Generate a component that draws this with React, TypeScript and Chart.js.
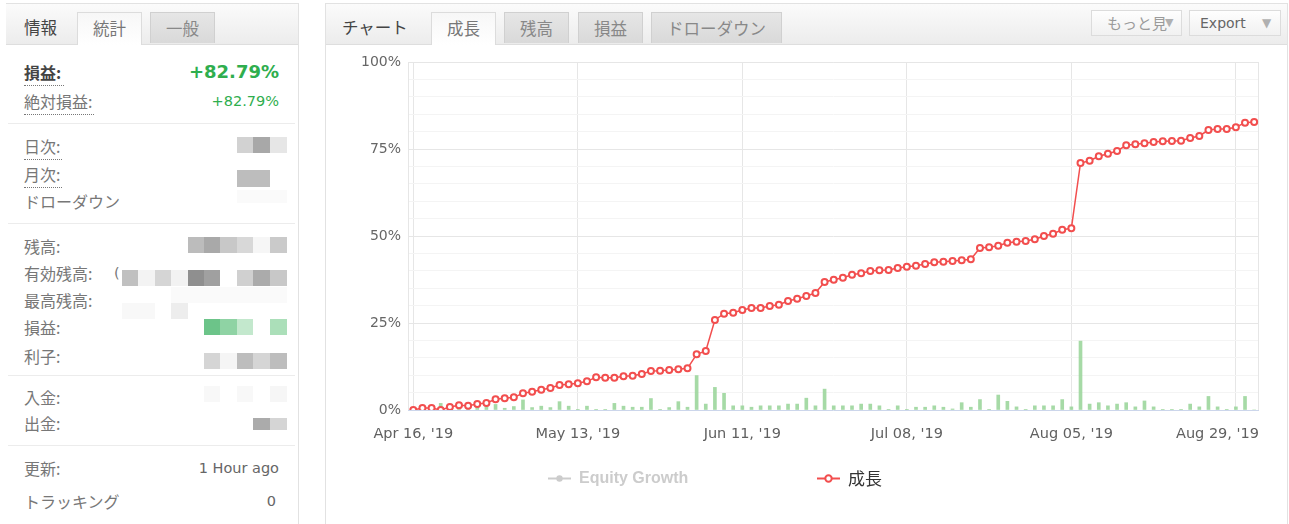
import React, { useEffect, useRef } from "react";
import { Chart, registerables } from "chart.js";

Chart.register(...registerables);

// ---------------- data ----------------
const growth = [
  0, 0.57, 0.57, 0, 0.86, 1.35, 1.24, 1.72, 2.0, 3.07,
  3.36, 3.64, 4.79, 5.27, 5.84, 6.32, 7.18, 7.38, 7.67, 8.24,
  9.39, 9.3, 9.3, 9.7, 9.87, 10.34, 11.2, 11.3, 11.5, 11.7,
  11.98, 16.0, 16.95, 25.86, 27.67, 27.96, 28.74, 29.31, 29.31, 29.89,
  30.26, 31.32, 31.98, 32.76, 33.62, 36.78, 37.44, 38.02, 38.88, 39.28,
  39.94, 40.14, 40.23, 40.8, 41.19, 41.47, 41.95, 42.44, 42.62, 42.82,
  43.02, 43.3, 46.55, 46.75, 47.21, 48.07, 48.36, 48.56, 49.05, 50.0,
  50.66, 51.81, 52.21, 70.98, 71.64, 72.9, 73.65, 74.43, 76.06, 76.35,
  76.64, 77.01, 77.21, 77.3, 77.39, 78.16, 78.74, 80.46, 80.75, 80.75,
  81.24, 82.56, 82.79,
];

const dailyBars = [
  0, 0.3, 0.3, 1.9, 0.5, 1.0, 1.3, 1.3, 1.0, 1.6,
  0.5, 1.0, 2.9, 0.7, 1.1, 0.7, 2.4, 1.1, 0.2, 1.1,
  0.2, 0.1, 1.9, 1.1, 0.8, 0.8, 3.3, 0.1, 0.7, 2.4,
  0.8, 9.9, 1.7, 6.5, 4.8, 1.2, 1.2, 0.8, 1.2, 1.2,
  1.2, 1.7, 1.7, 3.4, 1.2, 6.0, 1.2, 1.2, 1.2, 1.7,
  1.7, 1.2, 0.2, 1.2, 0.2, 0.8, 0.8, 1.2, 0.8, 0.3,
  2.1, 0.8, 3.0, 0.2, 4.3, 2.5, 0.9, 0.2, 1.2, 1.2,
  1.2, 3.0, 0.9, 19.8, 1.7, 2.1, 1.2, 1.7, 2.1, 0.9,
  2.6, 0.9, 0.1, 0.1, 0.1, 1.7, 0.9, 3.9, 0.9, 0.2,
  0.9, 3.9, 0,
];

const xTickLabels = ["Apr 16, '19", "May 13, '19", "Jun 11, '19", "Jul 08, '19", "Aug 05, '19", "Aug 29, '19"];
const xTickIndex = [0, 18, 36, 54, 72, 90];
const yMajorStep = 25;
const yMinorStep = 5;

const seriesNames = ["Equity Growth", "成長"];

// ---------------- styles ----------------
const RED = "#f24e4e";
const GREEN = "rgba(150, 212, 150, 0.85)";
const CJK = '"Noto Sans CJK JP", sans-serif';
const LATIN = '"DejaVu Sans", "Noto Sans CJK JP", sans-serif';

const plotBorder = {
  id: "plotBorder",
  beforeDatasetsDraw(chart: any) {
    const { ctx, chartArea: a } = chart;
    ctx.save();
    ctx.strokeStyle = "#e6e6e6";
    ctx.lineWidth = 1;
    ctx.beginPath();
    ctx.moveTo(a.left + 0.5, a.bottom);
    ctx.lineTo(a.left + 0.5, a.top + 0.5);
    ctx.lineTo(a.right - 0.5, a.top + 0.5);
    ctx.lineTo(a.right - 0.5, a.bottom);
    ctx.stroke();
    ctx.strokeStyle = "#ccd6eb";
    ctx.beginPath();
    ctx.moveTo(a.left, a.bottom + 0.5);
    ctx.lineTo(a.right, a.bottom + 0.5);
    ctx.stroke();
    ctx.restore();
  },
};

const xLabels = {
  id: "xLabels",
  afterDraw(chart: any) {
    const { ctx, chartArea: a } = chart;
    const xs = chart.scales.x;
    ctx.save();
    ctx.font = '14.5px "DejaVu Sans", sans-serif';
    ctx.fillStyle = "#606060";
    ctx.textBaseline = "middle";
    ctx.textAlign = "center";
    xTickIndex.forEach((idx, i) => {
      const txt = xTickLabels[i];
      const w = ctx.measureText(txt).width;
      let px = xs.getPixelForValue(idx);
      if (px + w / 2 > a.right) px = a.right - w / 2;
      ctx.fillText(txt, px, a.bottom + 24);
    });
    ctx.restore();
  },
};

const hcLegend = {
  id: "hcLegend",
  afterDraw(chart: any) {
    const { ctx } = chart;
    const y = 433;
    const startX = 222;
    const itemW = 269;
    const entries = chart.data.datasets.filter((d: any) => d.legendEntry);
    ctx.save();
    entries.forEach((d: any, i: number) => {
      const x = startX + i * itemW;
      const hidden = !!d.hidden;
      const col = hidden ? "#cccccc" : d.borderColor;
      ctx.strokeStyle = col;
      ctx.lineWidth = 2;
      ctx.beginPath();
      ctx.moveTo(x, y + 0.5);
      ctx.lineTo(x + 23, y + 0.5);
      ctx.stroke();
      ctx.beginPath();
      ctx.arc(x + 11.5, y + 0.5, 3.2, 0, Math.PI * 2);
      if (hidden) {
        ctx.fillStyle = col;
        ctx.fill();
      } else {
        ctx.fillStyle = "#ffffff";
        ctx.fill();
        ctx.stroke();
      }
      ctx.font = hidden
        ? 'bold 16px "Liberation Sans", sans-serif'
        : '17px "Noto Sans CJK JP", sans-serif';
      ctx.fillStyle = hidden ? "#cccccc" : "#333333";
      ctx.textBaseline = "middle";
      ctx.textAlign = "left";
      ctx.fillText(d.label, x + 31, y + 1);
    });
    ctx.restore();
  },
};

function GrowthChart() {
  const ref = useRef<HTMLCanvasElement | null>(null);
  useEffect(() => {
    if (!ref.current) return;
    const chart = new Chart(ref.current, {
      type: "bar",
      data: {
        datasets: [
          {
            type: "line",
            label: seriesNames[0],
            data: [],
            hidden: true,
            borderColor: "#cccccc",
            legendEntry: true,
          } as any,
          {
            type: "line",
            label: seriesNames[1],
            data: growth.map((v, i) => ({ x: i, y: v })),
            borderColor: RED,
            borderWidth: 1.5,
            pointRadius: 3,
            pointBorderWidth: 2,
            pointBackgroundColor: "#ffffff",
            pointBorderColor: RED,
            tension: 0,
            order: 1,
            legendEntry: true,
          } as any,
          {
            type: "bar",
            label: "daily",
            data: dailyBars.map((v, i) => ({ x: i, y: v })),
            backgroundColor: GREEN,
            barThickness: 3,
            order: 2,
          } as any,
        ],
      },
      options: {
        animation: false,
        responsive: false,
        layout: { padding: { left: 0, right: 29, top: 17, bottom: 74 } },
        plugins: { legend: { display: false }, tooltip: { enabled: false } },
        scales: {
          x: {
            type: "linear",
            offset: false,
            min: -0.58,
            max: 92.53,
            afterBuildTicks: (s: any) => {
              s.ticks = xTickIndex.map((v) => ({ value: v }));
            },
            afterFit: (s: any) => {
              s.height = 40;
            },
            ticks: { display: false },
            grid: { color: "#e6e6e6", drawTicks: false, offset: false },
            border: { display: false },
          },
          y: {
            min: 0,
            max: 100,
            afterFit: (s: any) => {
              s.width = 82;
            },
            ticks: {
              stepSize: yMinorStep,
              autoSkip: false,
              padding: 7,
              color: "#666666",
              font: { family: '"DejaVu Sans", sans-serif', size: 14 },
              callback: (v: any) => (Number(v) % yMajorStep === 0 ? v + "%" : ""),
            },
            grid: {
              drawTicks: false,
              color: (c: any) =>
                c.tick && c.tick.value === 0
                  ? "rgba(0,0,0,0)"
                  : c.tick && c.tick.value % yMajorStep === 0
                  ? "#e6e6e6"
                  : "#f4f4f4",
            },
            border: { display: false },
          },
        },
      } as any,
      plugins: [plotBorder, xLabels, hcLegend],
    });
    return () => chart.destroy();
  }, []);
  return (
    <canvas
      ref={ref}
      width={962}
      height={479}
      style={{ position: "absolute", left: 326, top: 45, width: 962, height: 479 }}
    />
  );
}

const abs = (s: React.CSSProperties): React.CSSProperties => ({ position: "absolute", ...s });

function Label({ y, text, bold, dotted, w }: { y: number; text: string; bold?: boolean; dotted?: boolean; w?: number }) {
  return (
    <div
      style={abs({
        left: 24,
        top: y - 12,
        height: 24,
        lineHeight: "24px",
        fontFamily: CJK,
        fontSize: 16,
        color: bold ? "#444" : "#777",
        fontWeight: bold ? 700 : 400,
        whiteSpace: "nowrap",
      })}
    >
      {text}
      {dotted ? (
        <div style={abs({ left: 0, top: 25, width: w, height: 0, borderTop: "1px dotted #777" })} />
      ) : null}
    </div>
  );
}

// values are right-aligned to x = 279 (left panel)
const VALUE_RIGHT = 1289 - 279;

function Value({ y, text, style }: { y: number; text: string; style?: React.CSSProperties }) {
  return (
    <div
      style={abs({
        right: VALUE_RIGHT,
        top: y - 12,
        height: 24,
        lineHeight: "24px",
        fontFamily: LATIN,
        fontSize: 14.5,
        color: "#666",
        whiteSpace: "nowrap",
        textAlign: "right",
        ...style,
      })}
    >
      {text}
    </div>
  );
}

// mosaic blocks: [x, y, w, h, color]
const mosaic: [number, number, number, number, string][] = [
  [237, 137, 16, 16, "#d2d2d2"], [253, 137, 17, 16, "#a8a8a8"], [270, 137, 17, 16, "#e6e6e6"],
  [237, 170, 33, 17, "#bdbdbd"],
  [237, 190, 50, 13, "#fafafa"],
  [188, 237, 16, 16, "#bcbcbc"], [204, 237, 16, 16, "#a9a9a9"], [220, 237, 17, 16, "#c8c8c8"], [237, 237, 16, 16, "#d8d8d8"], [253, 237, 17, 16, "#f6f6f6"], [270, 237, 17, 16, "#cacaca"],
  [122, 270, 16, 16, "#c0c0c0"], [138, 270, 17, 16, "#f3f3f3"], [155, 270, 16, 16, "#d5d5d5"], [171, 270, 17, 16, "#f2f2f2"], [188, 270, 16, 16, "#8f8f8f"], [204, 270, 16, 16, "#a0a0a0"], [237, 270, 16, 16, "#d0d0d0"], [253, 270, 17, 16, "#ababab"], [270, 270, 17, 16, "#c8c8c8"],
  [171, 287, 116, 16, "#fafafa"], [122, 303, 33, 16, "#f8f8f8"], [171, 303, 17, 16, "#ededed"],
  [204, 319, 16, 16, "#6cc489"], [220, 319, 17, 16, "#8fd3a4"], [237, 319, 16, 16, "#c3e8cd"], [270, 319, 17, 16, "#abdfb9"],
  [204, 353, 16, 16, "#d5d5d5"], [220, 353, 17, 16, "#f5f5f5"], [237, 353, 16, 16, "#bdbdbd"], [253, 353, 17, 16, "#d5d5d5"], [270, 353, 17, 16, "#bdbdbd"],
  [204, 386, 16, 16, "#f8f8f8"], [237, 386, 16, 16, "#f8f8f8"], [270, 386, 17, 16, "#f6f6f6"],
  [253, 418, 17, 12, "#ababab"], [270, 418, 17, 12, "#d5d5d5"],
];

const headerBg = "linear-gradient(#fbfbfb, #ececec)";
const tabBase: React.CSSProperties = {
  position: "absolute",
  top: 12,
  height: 31,
  lineHeight: "31px",
  textAlign: "center",
  fontFamily: CJK,
  fontSize: 16.5,
  color: "#777",
  boxSizing: "border-box",
};
const activeTab: React.CSSProperties = {
  ...tabBase,
  height: 33,
  background: "linear-gradient(#f7f7f7, #ffffff)",
  border: "1px solid #dcdcdc",
  borderBottom: "none",
};
const idleTab: React.CSSProperties = {
  ...tabBase,
  background: "linear-gradient(#e6e6e6, #d9d9d9)",
  border: "1px solid #d0d0d0",
  borderBottom: "none",
  color: "#888",
};

export default function App() {
  useEffect(() => {
    document.body.style.margin = "0";
  }, []);
  return (
    <div style={{ position: "relative", width: 1289, height: 524, overflow: "hidden", background: "#fff" }}>
      {/* left panel */}
      <div style={abs({ left: 6, top: 3, width: 293, height: 540, border: "1px solid #e2e2e2", borderLeft: "none", boxSizing: "border-box" })} />
      <div style={abs({ left: 6, top: 4, width: 292, height: 40, background: headerBg, borderBottom: "1px solid #dedede" })} />
      <div style={abs({ left: 24, top: 15, height: 24, lineHeight: "24px", fontFamily: CJK, fontSize: 16.5, color: "#444" })}>情報</div>
      <div style={{ ...activeTab, left: 77, width: 65 }}>統計</div>
      <div style={{ ...idleTab, left: 150, width: 65 }}>一般</div>

      <Label y={72} text="損益:" bold dotted w={40} />
      <Value y={72} text="+82.79%" style={{ fontWeight: 700, fontSize: 18, color: "#2fae4e" }} />
      <Label y={101} text="絶対損益:" dotted w={70} />
      <Value y={101} text="+82.79%" style={{ color: "#2fae4e" }} />
      <div style={abs({ left: 8, top: 123, width: 287, height: 1, background: "#ececec" })} />
      <Label y={146} text="日次:" dotted w={38} />
      <Label y={174} text="月次:" dotted w={38} />
      <Label y={201} text="ドローダウン" />
      <div style={abs({ left: 8, top: 223, width: 287, height: 1, background: "#ececec" })} />
      <Label y={246} text="残高:" />
      <Label y={273} text="有効残高:" />
      <div style={abs({ left: 114, top: 261, height: 24, lineHeight: "24px", fontFamily: LATIN, fontSize: 14.5, color: "#777" })}>(</div>
      <Label y={300} text="最高残高:" />
      <Label y={327} text="損益:" />
      <Label y={356} text="利子:" />
      <div style={abs({ left: 8, top: 375, width: 287, height: 1, background: "#ececec" })} />
      <Label y={397} text="入金:" />
      <Label y={423} text="出金:" />
      <div style={abs({ left: 8, top: 445, width: 287, height: 1, background: "#ececec" })} />
      <Label y={468} text="更新:" />
      <Value y={468} text="1 Hour ago" />
      <Label y={501} text="トラッキング" />
      <Value y={501} text="0" style={{ right: VALUE_RIGHT + 3 }} />
      {mosaic.map(([x, y, w, h, c], i) => (
        <div key={i} style={abs({ left: x, top: y, width: w, height: h, background: c })} />
      ))}

      {/* right panel */}
      <div style={abs({ left: 325, top: 3, width: 963, height: 540, border: "1px solid #e2e2e2", boxSizing: "border-box" })} />
      <div style={abs({ left: 326, top: 4, width: 961, height: 40, background: headerBg, borderBottom: "1px solid #dedede" })} />
      <div style={abs({ left: 342, top: 15, height: 24, lineHeight: "24px", fontFamily: CJK, fontSize: 16.5, color: "#444" })}>チャート</div>
      <div style={{ ...activeTab, left: 431, width: 65 }}>成長</div>
      <div style={{ ...idleTab, left: 504, width: 65 }}>残高</div>
      <div style={{ ...idleTab, left: 578, width: 65 }}>損益</div>
      <div style={{ ...idleTab, left: 651, width: 131 }}>ドローダウン</div>

      <div style={abs({ left: 1091, top: 10, width: 91, height: 26, boxSizing: "border-box", border: "1px solid #dcdcdc", background: "linear-gradient(#fefefe, #f1f1f1)" })}>
        <div style={abs({ left: 15, top: 0, height: 24, lineHeight: "24px", fontFamily: CJK, fontSize: 15, color: "#9a9a9a" })}>もっと見</div>
        <div style={abs({ left: 73, top: 0, height: 24, lineHeight: "24px", fontFamily: LATIN, fontSize: 11, color: "#b0b0b0" })}>▼</div>
      </div>
      <div style={abs({ left: 1189, top: 10, width: 92, height: 26, boxSizing: "border-box", border: "1px solid #dcdcdc", background: "linear-gradient(#fefefe, #f1f1f1)" })}>
        <div style={abs({ left: 10, top: 0, height: 24, lineHeight: "24px", fontFamily: LATIN, fontSize: 14, color: "#666" })}>Export</div>
        <div style={abs({ left: 72, top: 0, height: 24, lineHeight: "24px", fontFamily: LATIN, fontSize: 12, color: "#b0b0b0" })}>▼</div>
      </div>

      <GrowthChart />
    </div>
  );
}
